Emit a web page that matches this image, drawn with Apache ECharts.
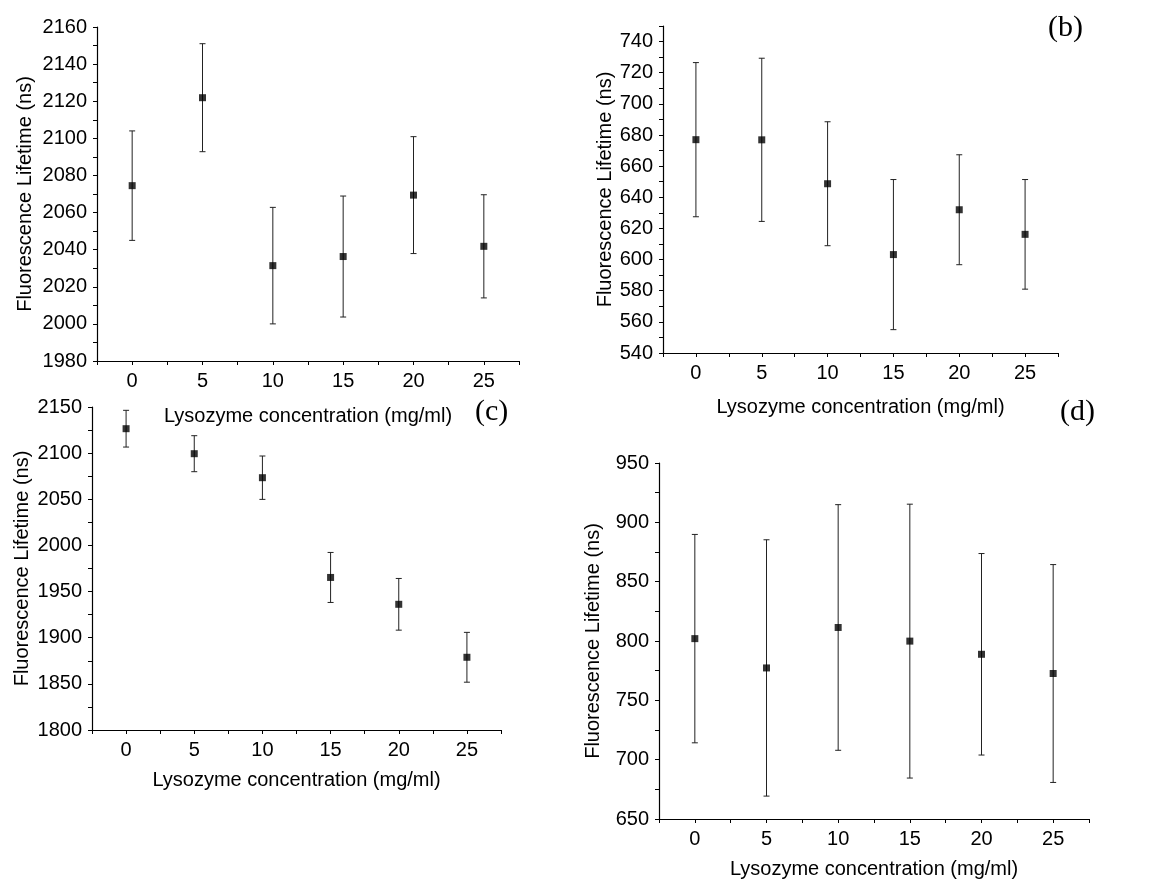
<!DOCTYPE html>
<html>
<head>
<meta charset="utf-8">
<script src="https://cdn.jsdelivr.net/npm/echarts@6/dist/echarts.min.js"></script>
<style>
  html, body { margin: 0; padding: 0; background: #fff; }
  #main { width: 1149px; height: 890px; }
</style>
</head>
<body>
<div id="main"></div>
<script>
// lysozyme concentration (mg/ml)
var conc = [0, 5, 10, 15, 20, 25]

// panel (a)
var lifeA = [2074.5, 2121.9, 2031.4, 2036.3, 2069.4, 2041.8]
var errA = [29.5, 29.1, 31.4, 32.6, 31.5, 27.8]
// panel (b)
var lifeB = [677, 676.9, 648.7, 603.2, 632, 616.2]
var errB = [49.5, 52.4, 39.8, 48.2, 35.3, 35.2]
// panel (c)
var lifeC = [2126.5, 2099.4, 2073.4, 1965.3, 1936.2, 1878.8]
var errC = [19.9, 19.5, 23.5, 27.1, 28, 27]
// panel (d)
var lifeD = [802, 777.3, 811.4, 799.9, 788.8, 772.6]
var errD = [87.8, 108, 103.5, 115.4, 84.9, 91.8]

var xName = 'Lysozyme concentration (mg/ml)'
var yName = 'Fluorescence Lifetime (ns)'
var font = 'Liberation Sans, Arial, sans-serif'

var myChart = echarts.init(document.getElementById('main'))

function xAxisFor(i, gap) {
  return {
    type: 'value',
    gridIndex: i,
    min: -2.5,
    max: 27.5,
    interval: 2.5,
    name: xName,
    nameLocation: 'middle',
    nameGap: gap,
    nameTextStyle: { color: '#000', fontSize: 20, fontFamily: font },
    splitLine: { show: false },
    axisLine: { onZero: false, lineStyle: { color: '#000', width: 1.2 } },
    axisTick: { show: true, length: 4, lineStyle: { color: '#000' } },
    axisLabel: {
      color: '#000',
      fontSize: 20,
      fontFamily: font,
      margin: 10,
      formatter: function (v) {
        return v % 5 === 0 ? String(v) : '' // only label every 5
      },
    },
  }
}

function yAxisFor(i, min, max, step, labelStep, gap) {
  return {
    type: 'value',
    gridIndex: i,
    min: min,
    max: max,
    interval: step,
    name: yName,
    nameLocation: 'middle',
    nameGap: gap,
    nameTextStyle: { color: '#000', fontSize: 20, fontFamily: font },
    splitLine: { show: false },
    axisLine: { onZero: false, lineStyle: { color: '#000', width: 1.2 } },
    axisTick: { show: true, length: 4, lineStyle: { color: '#000' } },
    axisLabel: {
      color: '#000',
      fontSize: 20,
      fontFamily: font,
      margin: 10,
      showMaxLabel: true,
      formatter: function (v) {
        return v % labelStep === 0 ? String(v) : ''
      },
    },
  }
}

// error bar drawing: data item = [x, low, high]
function renderErr(params, api) {
  var x = api.value(0)
  var top = api.coord([x, api.value(2)])
  var bot = api.coord([x, api.value(1)])
  var cap = 3
  var st = { stroke: '#222', lineWidth: 1 }
  return {
    type: 'group',
    children: [
      { type: 'line', shape: { x1: top[0], y1: top[1], x2: bot[0], y2: bot[1] }, style: st },
      { type: 'line', shape: { x1: top[0] - cap, y1: top[1], x2: top[0] + cap, y2: top[1] }, style: st },
      { type: 'line', shape: { x1: bot[0] - cap, y1: bot[1], x2: bot[0] + cap, y2: bot[1] }, style: st },
    ],
  }
}

function panelSeries(i, life, err) {
  var pts = conc.map(function (c, k) {
    return [c, life[k]]
  })
  var bars = conc.map(function (c, k) {
    return [c, life[k] - err[k], life[k] + err[k]]
  })
  return [
    {
      type: 'custom',
      xAxisIndex: i,
      yAxisIndex: i,
      renderItem: renderErr,
      encode: { x: 0, y: [1, 2] },
      data: bars,
      z: 2,
      silent: true,
    },
    {
      type: 'scatter',
      xAxisIndex: i,
      yAxisIndex: i,
      symbol: 'rect',
      symbolSize: 7,
      itemStyle: { color: '#000' },
      data: pts,
      z: 3,
      silent: true,
    },
  ]
}

var option = {
  backgroundColor: '#fff',
  animation: false,
  grid: [
    { left: 97, top: 27, width: 422, height: 334 },
    { left: 663, top: 26, width: 395, height: 327 },
    { left: 92, top: 407, width: 409, height: 323 },
    { left: 659, top: 463, width: 430, height: 356 },
  ],
  xAxis: [xAxisFor(0, 45), xAxisFor(1, 44), xAxisFor(2, 40), xAxisFor(3, 40)],
  yAxis: [
    yAxisFor(0, 1980, 2160, 10, 20, 62),
    yAxisFor(1, 540, 750, 10, 20, 48),
    yAxisFor(2, 1800, 2150, 25, 50, 60),
    yAxisFor(3, 650, 950, 25, 50, 56),
  ],
  series: []
    .concat(panelSeries(0, lifeA, errA))
    .concat(panelSeries(1, lifeB, errB))
    .concat(panelSeries(2, lifeC, errC))
    .concat(panelSeries(3, lifeD, errD)),
  // panel letters
  graphic: [
    { type: 'text', left: 1048, top: 13, style: { text: '(b)', font: '30px Liberation Serif, Times New Roman, serif', fill: '#000' } },
    { type: 'text', left: 475, top: 397, z: 100, style: { text: '(c)', font: '30px Liberation Serif, Times New Roman, serif', fill: '#000', backgroundColor: '#fff' } },
    { type: 'text', left: 1060, top: 397, style: { text: '(d)', font: '30px Liberation Serif, Times New Roman, serif', fill: '#000' } },
  ],
}

option && myChart.setOption(option)
</script>
</body>
</html>
